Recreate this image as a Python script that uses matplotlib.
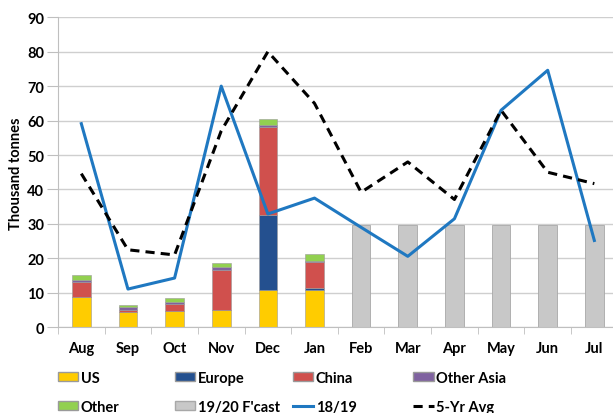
import matplotlib.pyplot as plt
import numpy as np
from matplotlib.patches import Patch
from matplotlib.lines import Line2D

plt.rcParams['font.family'] = ['Lato', 'DejaVu Sans']
plt.rcParams['font.weight'] = 'bold'

months = ['Aug', 'Sep', 'Oct', 'Nov', 'Dec', 'Jan', 'Feb', 'Mar', 'Apr', 'May', 'Jun', 'Jul']

# 19/20 shipments by destination (Aug-Jan actual)
us = [8.7, 4.5, 4.7, 5.0, 10.7, 10.9]
europe = [0.0, 0.0, 0.0, 0.0, 21.9, 0.4]
china = [4.4, 0.4, 2.2, 11.6, 25.5, 7.7]
other_asia = [0.5, 1.0, 0.4, 0.9, 0.5, 0.3]
other = [1.6, 0.6, 1.2, 1.3, 2.0, 2.1]

# forecast Feb-Jul
fcast = [29.7, 29.7, 29.7, 29.7, 29.7, 29.7]

last_year = [59.1, 11.1, 14.3, 70.0, 32.9, 37.5, 29.0, 20.6, 31.5, 63.0, 74.6, 25.2]
avg5 = [44.6, 22.5, 21.0, 57.0, 80.0, 65.0, 39.2, 48.0, 37.1, 63.0, 45.0, 41.7]

c_us = '#FFCC00'
c_eu = '#24508F'
c_cn = '#D0504D'
c_oa = '#7F62A0'
c_ot = '#92D050'
c_fc = '#C8C8C8'
c_line = '#1F78C1'

fig = plt.figure(figsize=(6.13, 4.14), dpi=100)
ax = fig.add_axes([0.0946, 0.207, 0.913, 0.749])

x = np.arange(len(months))
xa = x[:6]
w = 0.4
bottom = np.zeros(6)
for vals, col in [(us, c_us), (europe, c_eu), (china, c_cn), (other_asia, c_oa), (other, c_ot)]:
    ax.bar(xa, vals, w, bottom=bottom, color=col, edgecolor='#9a9a9a', linewidth=0.4, zorder=2)
    bottom += np.array(vals)

ax.bar(x[6:], fcast, w, color=c_fc, edgecolor='#a8a8a8', linewidth=0.6, zorder=2)

ax.plot(x, last_year, color=c_line, lw=2.2, zorder=3)
ax.plot(x, avg5, color='black', lw=2.2, ls=(0, (3, 2)), zorder=3)

ax.set_xlim(-0.5, 11.5)
ax.set_ylim(0, 90)
ax.set_yticks(range(0, 91, 10))
ax.set_xticks(x)
ax.set_xticklabels(months)
ax.set_xticks(np.arange(-0.5, 12, 1), minor=True)
ax.tick_params(axis='x', which='major', length=0, pad=10, labelsize=10.5)
ax.tick_params(axis='x', which='minor', length=5, color='#bfbfbf')
ax.tick_params(axis='y', length=8, color='#bfbfbf', labelsize=10.5, pad=2)
ax.grid(axis='y', color='#cfcfcf', lw=1, zorder=0)
ax.set_axisbelow(True)
for s in ['top', 'right']:
    ax.spines[s].set_visible(False)
ax.spines['left'].set_color('#bfbfbf')
ax.spines['bottom'].set_color('#bfbfbf')
ax.set_ylabel('Thousand tonnes', fontsize=10.5, fontweight='bold', labelpad=3)

columns = [
    [Patch(facecolor=c_us, edgecolor='#9a9a9a', label='US'),
     Patch(facecolor=c_ot, edgecolor='#9a9a9a', label='Other')],
    [Patch(facecolor=c_eu, edgecolor='#9a9a9a', label='Europe'),
     Patch(facecolor=c_fc, edgecolor='#a8a8a8', label="19/20 F'cast")],
    [Patch(facecolor=c_cn, edgecolor='#9a9a9a', label='China'),
     Line2D([], [], color=c_line, lw=2.2, label='18/19')],
    [Patch(facecolor=c_oa, edgecolor='#9a9a9a', label='Other Asia'),
     Line2D([], [], color='black', lw=2.2, ls=(0, (3, 2)), label='5-Yr Avg')],
]
col_x = [0.0946, 0.2855, 0.478, 0.674]
for hs, cx in zip(columns, col_x):
    fig.legend(handles=hs, loc='center left', bbox_to_anchor=(cx, 0.05),
               frameon=False, fontsize=10.5, handlelength=1.4, handleheight=0.55,
               handletextpad=0.15, labelspacing=1.0, borderpad=0, borderaxespad=0)

fig.savefig('out.png', dpi=100)
